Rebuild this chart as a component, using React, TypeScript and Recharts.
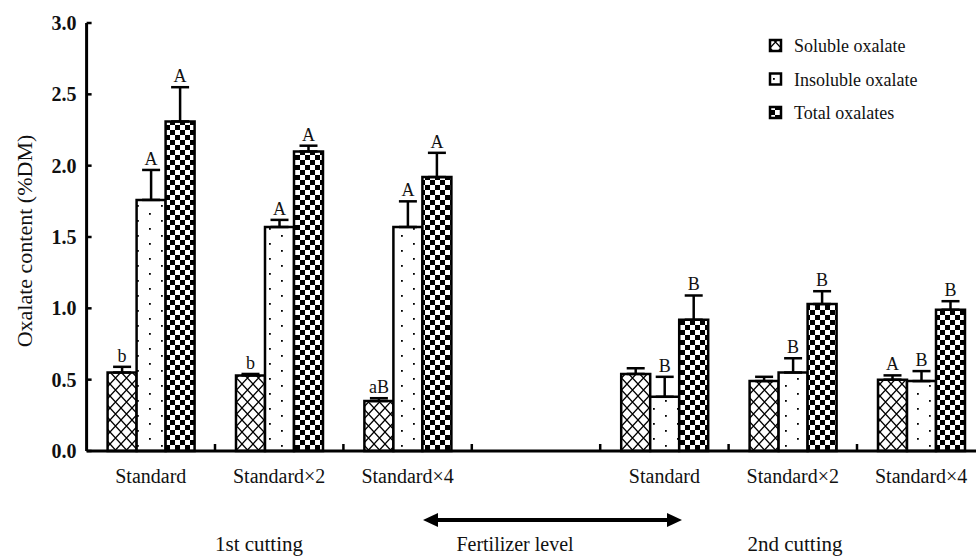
import React from 'react'
import { BarChart, Bar, XAxis, YAxis, ErrorBar, LabelList } from 'recharts'

const categories = ['Standard', 'Standard×2', 'Standard×4', '', 'Standard', 'Standard×2', 'Standard×4']
const soluble = [0.55, 0.53, 0.35, null, 0.54, 0.49, 0.5]
const solubleErr = [0.04, 0.01, 0.02, null, 0.04, 0.03, 0.03]
const insoluble = [1.76, 1.57, 1.57, null, 0.38, 0.55, 0.49]
const insolubleErr = [0.21, 0.05, 0.18, null, 0.14, 0.1, 0.07]
const total = [2.31, 2.1, 1.92, null, 0.92, 1.03, 0.99]
const totalErr = [0.24, 0.04, 0.17, null, 0.17, 0.09, 0.06]
const solubleLetters = ['b', 'b', 'aB', '', '', '', 'A']
const insolubleLetters = ['A', 'A', 'A', '', 'B', 'B', 'B']
const totalLetters = ['A', 'A', 'A', '', 'B', 'B', 'B']
const yTicks = [0, 0.5, 1, 1.5, 2, 2.5, 3]
const legendNames = ['Soluble oxalate', 'Insoluble oxalate', 'Total oxalates']
const cuttings = ['1st cutting', '2nd cutting']

const rows = categories.map((c, i) => ({
  k: i,
  soluble: soluble[i],
  solubleErr: solubleErr[i],
  insoluble: insoluble[i],
  insolubleErr: insolubleErr[i],
  total: total[i],
  totalErr: totalErr[i],
}))

const FONT = "'Liberation Serif', 'Times New Roman', serif"
const fills = ['url(#xhatch)', 'url(#dots)', 'url(#checker)']

const errKey = (key: string) => (d: any) => (d[key] == null ? null : [0, d[key]])

// the label value is the row number, so lookups don't shift past the empty slot
const letterLabel = (letters: string[], vals: (number | null)[], errs: (number | null)[]) => (props: any) => {
  const vb = props.viewBox ?? props
  const x = vb.x ?? props.x
  const y = vb.y ?? props.y
  const width = vb.width ?? props.width
  const height = Math.abs(vb.height ?? props.height)
  const row = Number(props.value)
  const v = vals[row]
  if (!letters[row] || !v) return null
  const ppu = height / v
  const top = y - (errs[row] ?? 0) * ppu
  return (
    <text x={x + width / 2} y={top - 5} textAnchor="middle" fontSize={18} fontFamily={FONT} fill="#111">
      {letters[row]}
    </text>
  )
}

const YTick = (props: any) => {
  const { x, y, payload } = props
  return (
    <g>
      <text x={x} y={y} dy={7} textAnchor="end" fontSize={20} fontWeight="bold" fontFamily={FONT} fill="#111">
        {Number(payload.value).toFixed(1)}
      </text>
      <line x1={x + 10} x2={x + 15} y1={y} y2={y} stroke="#000" strokeWidth={2.5} />
    </g>
  )
}

const XTick = (props: any) => {
  const { x, y, payload } = props
  const half = payload.offset ?? 64.2
  return (
    <g>
      <text x={x} y={y + 32} textAnchor="middle" fontSize={20} fontFamily={FONT} fill="#111">
        {categories[payload.value]}
      </text>
      <line x1={x + half} x2={x + half} y1={y - 1} y2={y - 7} stroke="#000" strokeWidth={2.5} />
    </g>
  )
}

const rowKey = (d: any) => d.k

export default function App() {
  return (
    <div style={{ position: 'absolute', left: 0, top: 0, width: 976, height: 558, overflow: 'hidden', background: '#fff' }}>
      <BarChart
        width={1000}
        height={558}
        data={rows}
        margin={{ top: 23, right: 14.6, left: 26.6, bottom: 67 }}
        barSize={29}
        barGap={0}
      >
        <defs>
          <pattern id="xhatch" patternUnits="userSpaceOnUse" width="11" height="12">
            <rect width="11" height="12" fill="#fff" />
            <path d="M0,0 L11,12 M11,0 L0,12" stroke="#000" strokeWidth="1.3" />
          </pattern>
          <pattern id="dots" patternUnits="userSpaceOnUse" width="24" height="15">
            <rect width="24" height="15" fill="#fff" />
            <rect x="5" y="3" width="1.8" height="1.8" fill="#000" />
            <rect x="17" y="10" width="1.8" height="1.8" fill="#000" />
          </pattern>
          <pattern id="checker" patternUnits="userSpaceOnUse" width="10" height="10">
            <rect width="10" height="10" fill="#fff" />
            <rect width="5" height="5" fill="#000" />
            <rect x="5" y="5" width="5" height="5" fill="#000" />
          </pattern>
        </defs>
        <XAxis
          dataKey="k"
          type="category"
          axisLine={{ stroke: '#000', strokeWidth: 3 }}
          tickLine={false}
          tickSize={0}
          tickMargin={0}
          height={40}
          interval={0}
          tick={<XTick />}
        />
        <YAxis
          domain={[0, 3]}
          ticks={yTicks}
          width={60}
          axisLine={{ stroke: '#000', strokeWidth: 3 }}
          tickLine={false}
          tickSize={0}
          tickMargin={10}
          interval={0}
          tick={<YTick />}
        />
        <Bar dataKey="soluble" fill={fills[0]} stroke="#000" strokeWidth={2.5} isAnimationActive={false}>
          <ErrorBar dataKey={errKey('solubleErr')} direction="y" width={9} stroke="#000" strokeWidth={2.5} />
          <LabelList dataKey={rowKey} content={letterLabel(solubleLetters, soluble, solubleErr)} />
        </Bar>
        <Bar dataKey="insoluble" fill={fills[1]} stroke="#000" strokeWidth={2.5} isAnimationActive={false}>
          <ErrorBar dataKey={errKey('insolubleErr')} direction="y" width={9} stroke="#000" strokeWidth={2.5} />
          <LabelList dataKey={rowKey} content={letterLabel(insolubleLetters, insoluble, insolubleErr)} />
        </Bar>
        <Bar dataKey="total" fill={fills[2]} stroke="#000" strokeWidth={2.5} isAnimationActive={false}>
          <ErrorBar dataKey={errKey('totalErr')} direction="y" width={9} stroke="#000" strokeWidth={2.5} />
          <LabelList dataKey={rowKey} content={letterLabel(totalLetters, total, totalErr)} />
        </Bar>
      </BarChart>
      <svg
        width={976}
        height={558}
        style={{ position: 'absolute', left: 0, top: 0, pointerEvents: 'none' }}
        fontFamily={FONT}
      >
        <text
          x={24}
          y={241}
          transform="rotate(-90 24 241)"
          textAnchor="middle"
          dominantBaseline="central"
          fontSize={22}
          fill="#111"
        >
          Oxalate content (%DM)
        </text>
        {legendNames.map((name, i) => (
          <g key={name}>
            <rect x={770} y={40 + i * 33.5} width={11} height={11} fill={fills[i]} stroke="#000" strokeWidth={2.5} />
            <text x={794} y={52 + i * 33.5} fontSize={18} fill="#111">
              {name}
            </text>
          </g>
        ))}
        <line x1={436} x2={669} y1={520} y2={520} stroke="#000" strokeWidth={4} />
        <polygon points="423,520 438,513 438,527" fill="#000" />
        <polygon points="682,520 667,513 667,527" fill="#000" />
        <text x={259} y={551} textAnchor="middle" fontSize={21} fill="#111">
          {cuttings[0]}
        </text>
        <text x={515} y={551} textAnchor="middle" fontSize={20} fill="#111">
          Fertilizer level
        </text>
        <text x={795} y={551} textAnchor="middle" fontSize={21} fill="#111">
          {cuttings[1]}
        </text>
      </svg>
    </div>
  )
}
